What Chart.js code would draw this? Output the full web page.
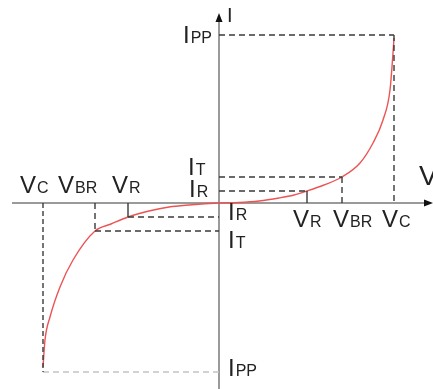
<!DOCTYPE html>
<html>
<head>
<meta charset="utf-8">
<style>
  html, body { margin: 0; padding: 0; background: #fff; }
  #wrap { width: 433px; height: 389px; position: relative; }
</style>
<script src="https://cdn.jsdelivr.net/npm/chart.js@4/dist/chart.umd.min.js"></script>
</head>
<body>
<div id="wrap"><canvas id="ivChart"></canvas></div>
<script>
// characteristic levels (arbitrary units, forward / reverse side)
const vPos = [88, 123, 175];      // VR, VBR, VC
const vNeg = [-91, -124, -176];
const iPos = [12, 26, 168];       // IR, IT, IPP
const iNeg = [-14, -28, -169];

// I-V curve
const curveV = [-176, -174, -169, -159, -146, -124, -108, -91, -70, -50, -30, 0,
                20, 40, 60, 75, 88, 105, 123, 141, 154, 164, 171, 174, 175];
const curveI = [-164, -137, -114, -84, -57, -28, -21, -14, -8, -4, -2, 0,
                0.5, 2, 5, 8, 12, 18, 26, 40, 60, 83, 113, 150, 165];

const subNames = ['R', 'BR', 'C'];
const iSubNames = ['R', 'T', 'PP'];

const axisV = [-207, 214];
const axisI = [-186, 190];

const DARK = '#3a3a3a';
const LIGHT = '#c4c4c4';

function seg(x1, y1, x2, y2, color, dash) {
    return {
        data: [{ x: x1, y: y1 }, { x: x2, y: y2 }],
        showLine: true,
        borderColor: color,
        borderWidth: 1.4,
        borderDash: dash,
        pointRadius: 0,
        fill: false
    };
}

const guides = [];
const dashed = [6, 4];
// forward side
guides.push(seg(0, iPos[2], vPos[2], iPos[2], DARK, dashed));
guides.push(seg(vPos[2], iPos[2], vPos[2], 0, DARK, dashed));
guides.push(seg(0, iPos[1], vPos[1], iPos[1], DARK, dashed));
guides.push(seg(vPos[1], iPos[1], vPos[1], 0, DARK, dashed));
guides.push(seg(0, iPos[0], vPos[0], iPos[0], DARK, dashed));
guides.push(seg(vPos[0], iPos[0], vPos[0], 0, DARK, []));
// reverse side
guides.push(seg(vNeg[0], 0, vNeg[0], iNeg[0], DARK, []));
guides.push(seg(vNeg[0], iNeg[0], 0, iNeg[0], DARK, dashed));
guides.push(seg(vNeg[1], 0, vNeg[1], iNeg[1], DARK, dashed));
guides.push(seg(vNeg[1], iNeg[1], 0, iNeg[1], DARK, dashed));
guides.push(seg(vNeg[2], 0, vNeg[2], iNeg[2], DARK, [5, 3]));
guides.push(seg(vNeg[2], iNeg[2], 0, iNeg[2], LIGHT, dashed));

const curve = {
    data: curveV.map((v, k) => ({ x: v, y: curveI[k] })),
    showLine: true,
    borderColor: 'rgb(236, 84, 84)',
    borderWidth: 1.4,
    pointRadius: 0,
    cubicInterpolationMode: 'monotone',
    fill: false
};

function drawLabel(ctx, main, sub, x, y, size) {
    ctx.font = (size || 24) + 'px "Liberation Sans", Arial, sans-serif';
    ctx.fillText(main, x, y);
    const w = ctx.measureText(main).width;
    ctx.font = '16px "Liberation Sans", Arial, sans-serif';
    ctx.fillText(sub, x + w + 1, y);
}

const decor = {
    id: 'decor',
    beforeDatasetsDraw(chart) {
        const ctx = chart.ctx;
        const xs = chart.scales.x, ys = chart.scales.y;
        const x0 = xs.getPixelForValue(0), y0 = ys.getPixelForValue(0);
        ctx.save();
        ctx.strokeStyle = '#7a7a7a';
        ctx.lineWidth = 1.5;
        ctx.beginPath();
        ctx.moveTo(xs.getPixelForValue(axisV[0]), y0);
        ctx.lineTo(xs.getPixelForValue(axisV[1]) - 6, y0);
        ctx.moveTo(x0, ys.getPixelForValue(axisI[0]));
        ctx.lineTo(x0, ys.getPixelForValue(axisI[1]) + 6);
        ctx.stroke();
        // arrow heads
        ctx.fillStyle = '#111';
        const ax = xs.getPixelForValue(axisV[1]);
        ctx.beginPath();
        ctx.moveTo(ax, y0);
        ctx.lineTo(ax - 9, y0 - 3.5);
        ctx.lineTo(ax - 9, y0 + 3.5);
        ctx.closePath();
        ctx.fill();
        const ay = ys.getPixelForValue(axisI[1]);
        ctx.beginPath();
        ctx.moveTo(x0, ay);
        ctx.lineTo(x0 - 3.5, ay + 9);
        ctx.lineTo(x0 + 3.5, ay + 9);
        ctx.closePath();
        ctx.fill();
        ctx.restore();
    },
    afterDraw(chart) {
        const ctx = chart.ctx;
        const xs = chart.scales.x, ys = chart.scales.y;
        const x0 = xs.getPixelForValue(0), y0 = ys.getPixelForValue(0);
        ctx.save();
        ctx.fillStyle = '#222';
        ctx.textBaseline = 'alphabetic';
        ctx.textAlign = 'left';
        // axis names
        ctx.font = '20px "Liberation Sans", Arial, sans-serif';
        ctx.fillText('I', x0 + 8, ys.getPixelForValue(axisI[1]) + 9);
        ctx.font = '28px "Liberation Sans", Arial, sans-serif';
        ctx.fillText('V', xs.getPixelForValue(axisV[1]) - 14, y0 - 18);
        // voltage labels, forward side below axis
        const fwdOff = [-14, -9, -12];
        vPos.forEach((v, k) => drawLabel(ctx, 'V', subNames[k], xs.getPixelForValue(v) + fwdOff[k], y0 + 24));
        // voltage labels, reverse side above axis
        const revOff = [-16, -37, -23];
        vNeg.forEach((v, k) => drawLabel(ctx, 'V', subNames[k], xs.getPixelForValue(v) + revOff[k], y0 - 10));
        // current labels, forward side left of axis
        const fwdIx = [-30, -31, -36];
        const fwdIy = [6, -2, 8];
        iPos.forEach((c, k) => drawLabel(ctx, 'I', iSubNames[k], x0 + fwdIx[k], ys.getPixelForValue(c) + fwdIy[k]));
        // current labels, reverse side right of axis
        const revIy = [3, 17, 4];
        iNeg.forEach((c, k) => drawLabel(ctx, 'I', iSubNames[k], x0 + 9, ys.getPixelForValue(c) + revIy[k]));
        ctx.restore();
    }
};

new Chart(document.getElementById('ivChart'), {
    type: 'scatter',
    data: { datasets: [...guides, curve] },
    options: {
        responsive: true,
        maintainAspectRatio: false,
        animation: false,
        layout: { padding: 0 },
        plugins: { legend: { display: false }, tooltip: { enabled: false } },
        scales: {
            x: { type: 'linear', min: -219, max: 214, display: false },
            y: { type: 'linear', min: -186, max: 203, display: false }
        }
    },
    plugins: [decor]
});
</script>
</body>
</html>
